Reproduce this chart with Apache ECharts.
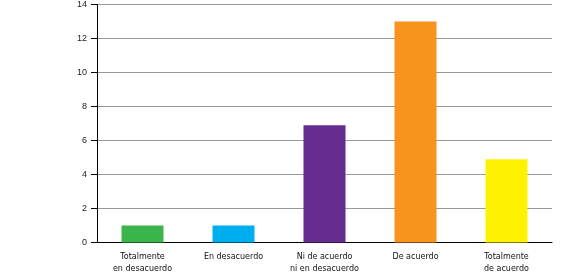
<!DOCTYPE html>
<html><head><meta charset="utf-8">
<script src="https://cdn.jsdelivr.net/npm/echarts@6/dist/echarts.min.js"></script>
<style>html,body{margin:0;padding:0;background:#fff}#c{width:569px;height:280px}</style>
</head><body><div id="c"></div>
<script>
const categories = ["Totalmente\nen desacuerdo", "En desacuerdo", "Ni de acuerdo\nni en desacuerdo", "De acuerdo", "Totalmente\nde acuerdo"];
const values = [1, 1, 6.9, 13, 4.9];
const colors = ["#39b54a", "#00aeef", "#662d91", "#f7941d", "#fff200"];
const yTicks = [0, 2, 4, 6, 8, 10, 12, 14];

const chart = echarts.init(document.getElementById('c'), null, {renderer: 'canvas'});
chart.setOption({
  animation: false,
  grid: {left: 97, right: 17, top: 4.5, bottom: 37.5},
  xAxis: {
    type: 'category',
    data: categories,
    axisLine: {lineStyle: {color: '#000', width: 1}},
    axisTick: {show: false},
    axisLabel: {fontFamily: 'DejaVu Sans', fontSize: 8, color: '#111', margin: 8, lineHeight: 12, interval: 0}
  },
  yAxis: {
    type: 'value', min: yTicks[0], max: yTicks[yTicks.length - 1], interval: 2,
    axisLine: {show: true, lineStyle: {color: '#000', width: 1}},
    axisTick: {show: true, length: 6, lineStyle: {color: '#000'}},
    axisLabel: {fontFamily: 'Liberation Sans', fontSize: 9, color: '#222', margin: 10},
    splitLine: {lineStyle: {color: '#999', width: 1}}
  },
  series: [{
    type: 'bar',
    barWidth: 42,
    data: values.map((v, i) => ({value: v, itemStyle: {color: colors[i]}}))
  }]
});
</script></body></html>
